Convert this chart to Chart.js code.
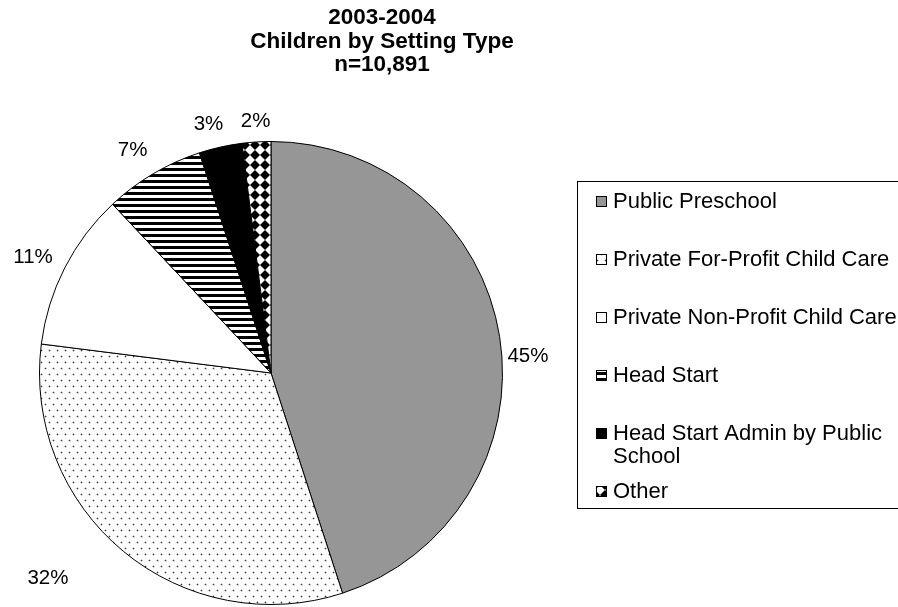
<!DOCTYPE html>
<html>
<head>
<meta charset="utf-8">
<title>Children by Setting Type</title>
<script src="https://cdn.jsdelivr.net/npm/chart.js@4.4.1/dist/chart.umd.min.js"></script>
<style>
  html, body { margin: 0; padding: 0; background: #ffffff; }
  #chart { display: block; }
</style>
</head>
<body>
<canvas id="chart" width="898" height="607"></canvas>
<script>
// Enrollment share by setting type, 2003-2004 (percent of n=10,891)
const settingTypes = [
  'Public Preschool',
  'Private For-Profit Child Care',
  'Private Non-Profit Child Care',
  'Head Start',
  'Head Start Admin by Public School',
  'Other'
];
const sharePercent = [45, 32, 11, 7, 3, 2];
const titleLines = ['2003-2004', 'Children by Setting Type', 'n=10,891'];

const FONT = '"Liberation Sans", Arial, Helvetica, sans-serif';

// ---- fill patterns -------------------------------------------------------
function makeTile(w, h, paint) {
  const c = document.createElement('canvas');
  c.width = w; c.height = h;
  const g = c.getContext('2d');
  paint(g, w, h);
  return c;
}
const ctx = document.getElementById('chart').getContext('2d');

const dotTile = makeTile(8, 12, (g) => {
  g.fillStyle = '#ffffff'; g.fillRect(0, 0, 8, 12);
  g.fillStyle = '#c4c4c4';
  [[1, 2], [5, 8]].forEach(([x, y]) => {
    g.fillRect(x - 1, y, 3, 1); g.fillRect(x, y - 1, 1, 3);
  });
  g.fillStyle = '#3a3a3a';
  g.fillRect(1, 2, 1, 1); g.fillRect(5, 8, 1, 1);
});
const stripeTile = makeTile(6, 6, (g) => {
  g.fillStyle = '#ffffff'; g.fillRect(0, 0, 6, 6);
  g.fillStyle = '#000000'; g.fillRect(0, 0, 6, 3);
});
const diamondTile = makeTile(10, 10, (g) => {
  g.fillStyle = '#ffffff'; g.fillRect(0, 0, 10, 10);
  g.fillStyle = '#000000';
  g.beginPath();
  g.moveTo(5, 0); g.lineTo(10, 5); g.lineTo(5, 10); g.lineTo(0, 5);
  g.closePath(); g.fill();
});

const sliceFills = [
  '#969696',
  ctx.createPattern(dotTile, 'repeat'),
  '#ffffff',
  ctx.createPattern(stripeTile, 'repeat'),
  '#000000',
  ctx.createPattern(diamondTile, 'repeat')
];

// label placement around the pie: angular nudge (deg) and gap beyond the rim (px)
const labelNudgeDeg = [5.3, 7.7, -1.1, -1.2, -1.5, 0.1];
const labelGap = [26, 72, 33, 31, 25, 21];

// ---- decorations: title, percent labels, framed legend ---------------------
const decorPlugin = {
  id: 'decor',
  afterDraw(chart) {
    const c = chart.ctx;
    c.save();

    // title
    c.fillStyle = '#000000';
    c.textAlign = 'center';
    c.textBaseline = 'middle';
    c.font = 'bold 22.5px ' + FONT;
    titleLines.forEach((t, i) => c.fillText(t, 382, 18 + i * 23.5));

    // percent labels outside each slice
    const arcs = chart.getDatasetMeta(0).data;
    c.font = '20.5px ' + FONT;
    arcs.forEach((arc, i) => {
      const mid = (arc.startAngle + arc.endAngle) / 2 + labelNudgeDeg[i] * Math.PI / 180;
      const r = arc.outerRadius + labelGap[i];
      const x = arc.x + Math.cos(mid) * r;
      const y = arc.y + Math.sin(mid) * r;
      c.fillText(sharePercent[i] + '%', x, y);
    });

    // legend frame
    const box = { x: 577.5, y: 181.5, w: 340, h: 327 };
    c.strokeStyle = '#000000';
    c.lineWidth = 1;
    c.strokeRect(box.x, box.y, box.w, box.h);

    // legend entries
    c.font = '22px ' + FONT;
    c.textAlign = 'left';
    const textX = 613, maxW = 292, lineH = 23;
    settingTypes.forEach((name, i) => {
      const yc = 201 + i * 58;
      // swatch
      c.fillStyle = sliceFills[i];
      c.fillRect(596, yc - 5, 11, 11);
      c.strokeStyle = '#000000';
      c.strokeRect(596.5, yc - 4.5, 10, 10);
      // wrapped text
      const words = name.split(' ');
      const lines = [];
      let cur = '';
      words.forEach((w) => {
        const test = cur ? cur + ' ' + w : w;
        if (c.measureText(test).width > maxW && cur) { lines.push(cur); cur = w; }
        else cur = test;
      });
      lines.push(cur);
      c.fillStyle = '#000000';
      lines.forEach((ln, k) => c.fillText(ln, textX, yc + 1 + k * lineH));
    });

    c.restore();
  }
};

new Chart(ctx, {
  type: 'pie',
  data: {
    labels: settingTypes,
    datasets: [{
      data: sharePercent,
      backgroundColor: sliceFills,
      borderColor: '#000000',
      borderWidth: 1
    }]
  },
  options: {
    responsive: false,
    animation: false,
    events: [],
    layout: { padding: { left: 39, right: 395, top: 141, bottom: 2 } },
    plugins: {
      legend: { display: false },
      title: { display: false },
      tooltip: { enabled: false }
    }
  },
  plugins: [decorPlugin]
});
</script>
</body>
</html>
